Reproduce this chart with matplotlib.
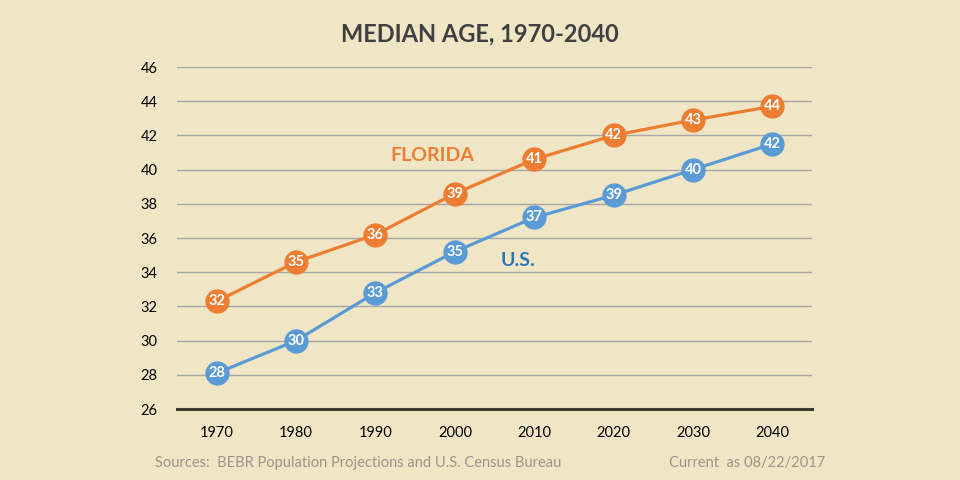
import matplotlib
matplotlib.use("Agg")
import matplotlib.pyplot as plt

years = ["1970", "1980", "1990", "2000", "2010", "2020", "2030", "2040"]
florida = [32.3, 34.6, 36.2, 38.6, 40.6, 42.0, 42.9, 43.7]
us = [28.1, 30.0, 32.8, 35.2, 37.2, 38.5, 40.0, 41.5]
florida_labels = ["32", "35", "36", "39", "41", "42", "43", "44"]
us_labels = ["28", "30", "33", "35", "37", "39", "40", "42"]
yticks = [26, 28, 30, 32, 34, 36, 38, 40, 42, 44, 46]

BG = "#F0E6C6"
ORANGE = "#ED7D31"
BLUE = "#5B9BD5"
FONT = ["Lato", "DejaVu Sans"]
plt.rcParams['font.family'] = FONT

fig = plt.figure(figsize=(9.6, 4.8), dpi=100, facecolor=BG)
ax = fig.add_axes([0.1844, 0.1479, 0.6615, 0.7125], facecolor=BG)

x = list(range(len(years)))
for vals, labs, col in [(florida, florida_labels, ORANGE), (us, us_labels, BLUE)]:
    ax.plot(x, vals, color=col, lw=2.3, marker="o", markersize=16.5,
            markerfacecolor=col, markeredgecolor=col, zorder=3)
    for xi, v, l in zip(x, vals, labs):
        ax.text(xi, v, l, ha="center", va="center", color="white",
                fontsize=10.5, fontweight="bold", zorder=4)

ax.set_xlim(-0.5, len(years) - 0.5)
ax.set_ylim(26, 46)
ax.set_yticks(yticks)
ax.set_xticks(x)
ax.set_xticklabels(years)
ax.yaxis.grid(True, color="#A6A6A6", lw=1)
ax.set_axisbelow(True)
for s in ["left", "right", "top"]:
    ax.spines[s].set_visible(False)
ax.spines["bottom"].set_color("#403A2E")
ax.spines["bottom"].set_linewidth(2.2)
ax.tick_params(axis="both", length=0, labelsize=10.5, colors="black")
ax.tick_params(axis="y", pad=14)
ax.tick_params(axis="x", pad=12)

ax.text(2.72, 40.85, "FLORIDA", color=ORANGE, fontsize=14, fontweight="bold",
        ha="center", va="center")
ax.text(3.79, 34.7, "U.S.", color="#2E75B6", fontsize=14, fontweight="bold",
        ha="center", va="center")

fig.text(0.5, 0.93, "MEDIAN AGE, 1970-2040", ha="center", va="center",
         fontsize=17, fontweight="bold", color="#404040")
fig.text(155 / 960, 1 - 463 / 480, "Sources:  BEBR Population Projections and U.S. Census Bureau",
         ha="left", va="center", fontsize=10.5, color="#9A958A")
fig.text(825 / 960, 1 - 463 / 480, "Current  as 08/22/2017",
         ha="right", va="center", fontsize=10.5, color="#9A958A")

fig.savefig("out.png", dpi=100, facecolor=BG)
